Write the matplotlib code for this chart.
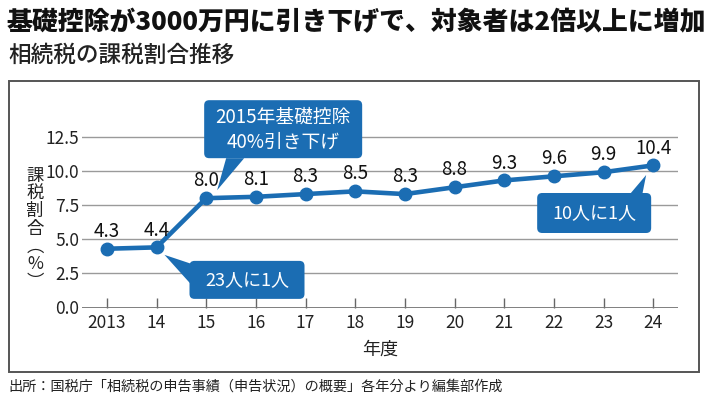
import matplotlib
matplotlib.use("Agg")
import matplotlib.pyplot as plt
from matplotlib.patches import FancyBboxPatch, Polygon, Rectangle
from matplotlib.transforms import IdentityTransform

plt.rcParams['font.family'] = ['Noto Sans CJK JP', 'DejaVu Sans']

years = [2013, 2014, 2015, 2016, 2017, 2018, 2019, 2020, 2021, 2022, 2023, 2024]
tick_labels = ["2013", "14", "15", "16", "17", "18", "19", "20", "21", "22", "23", "24"]
rates = [4.3, 4.4, 8.0, 8.1, 8.3, 8.5, 8.3, 8.8, 9.3, 9.6, 9.9, 10.4]
yticks = [0.0, 2.5, 5.0, 7.5, 10.0, 12.5]

title = "基礎控除が3000万円に引き下げで、対象者は2倍以上に増加"
subtitle = "相続税の課税割合推移"
footer = "出所：国税庁「相続税の申告事績（申告状況）の概要」各年分より編集部作成"
ylabel_chars = ["課", "税", "割", "合", "︵", "%", "︶"]
xlabel = "年度"
callouts = [
    (2015, 8.0, "2015年基礎控除\n40%引き下げ"),
    (2014, 4.4, "23人に1人"),
    (2024, 10.4, "10人に1人"),
]

BLUE = "#1b6db3"
W, H = 710, 401

fig = plt.figure(figsize=(W / 100, H / 100), dpi=100)
fig.patch.set_facecolor("white")

ax_left, ax_right = 82, 678
y0_px, y125_px = 307.5, 136.7
ymax = 13.0
ax_h = (y0_px - y125_px) / 12.5 * ymax
ax = fig.add_axes([ax_left / W, (H - y0_px) / H, (ax_right - ax_left) / W, ax_h / H])
ax.set_xlim(2012.5, 2024.5)
ax.set_ylim(0, ymax)
ax.patch.set_alpha(0)
for s in ["top", "right", "left", "bottom"]:
    ax.spines[s].set_visible(False)

ax.set_yticks(yticks)
ax.set_yticklabels([f"{v:.1f}" for v in yticks], fontsize=12.5, color="#222")
ax.tick_params(axis="y", length=0, pad=2)
ax.yaxis.grid(True, color="#9a9a9a", linewidth=1.0)
ax.set_axisbelow(True)

ax.set_xticks(years)
ax.set_xticklabels(tick_labels, fontsize=12.5, color="#222")
ax.tick_params(axis="x", direction="in", length=7, width=1, color="#666", pad=5)
ax.axhline(0, color="#777", linewidth=1.3, zorder=1)

ax.plot(years, rates, color=BLUE, linewidth=3.3, marker="o", markersize=9,
        markerfacecolor=BLUE, markeredgecolor=BLUE, zorder=3, clip_on=False)
for x, v in zip(years, rates):
    ax.annotate(f"{v:.1f}", (x, v), xytext=(0, 12.5), textcoords="offset points",
                ha="center", va="center", fontsize=13.5, color="#111", zorder=4)

ax.set_xlabel(xlabel, fontsize=13, color="#222", labelpad=6)

# vertical y label
fig.text(35 / W, 1 - 229 / H, "\n".join(ylabel_chars), ha="center", va="center",
         fontsize=12.5, color="#222", linespacing=0.98, multialignment="center")

# frame
fig.add_artist(Rectangle((9 / W, 1 - 372 / H), (699 - 9) / W, (372 - 81) / H,
                         transform=fig.transFigure, fill=False, edgecolor="#555",
                         linewidth=1.4))

fig.text(7 / W, 1 - 22 / H, title, ha="left", va="center", fontsize=18.6,
         fontweight=900, color="#111")
fig.text(8 / W, 1 - 55 / H, subtitle, ha="left", va="center", fontsize=16.3,
         fontweight="medium", color="#222")
fig.text(8 / W, 1 - 387 / H, footer, ha="left", va="center", fontsize=10.2,
         color="#222")

fig.canvas.draw()
ident = IdentityTransform()

# callout geometry: offsets in pixels relative to data point (x right, y up)
geoms = {
    0: dict(box=(-2, 156, 40, 98), tip=(11, 8), base=[(20, 40), (38, 40)], fs=13.5),
    1: dict(box=(33, 148, -51.5, -13.5), tip=(8, -7.5), base=[(35, -16.5), (35, -37.5)], fs=13),
    2: dict(box=(-116, -2, -67.6, -27.6), tip=(-7, -9.6), base=[(-24, -29.6), (-11, -29.6)], fs=13),
}
for i, (cx, cy, txt) in enumerate(callouts):
    px, py = ax.transData.transform((cx, cy))
    g = geoms[i]
    l, r, b, t = g["box"]
    box = FancyBboxPatch((px + l, py + b), r - l, t - b,
                         boxstyle="round,pad=0,rounding_size=5",
                         facecolor=BLUE, edgecolor="none", transform=ident, zorder=5)
    fig.add_artist(box)
    pts = [(px + g["tip"][0], py + g["tip"][1])] + [(px + a, py + c) for a, c in g["base"]]
    fig.add_artist(Polygon(pts, closed=True, facecolor=BLUE, edgecolor="none",
                           transform=ident, zorder=5))
    fig.text(px + (l + r) / 2, py + (b + t) / 2, txt, transform=ident,
             ha="center", va="center", color="white", fontsize=g["fs"],
             linespacing=1.25, zorder=6)

fig.savefig("out.png", dpi=100)
